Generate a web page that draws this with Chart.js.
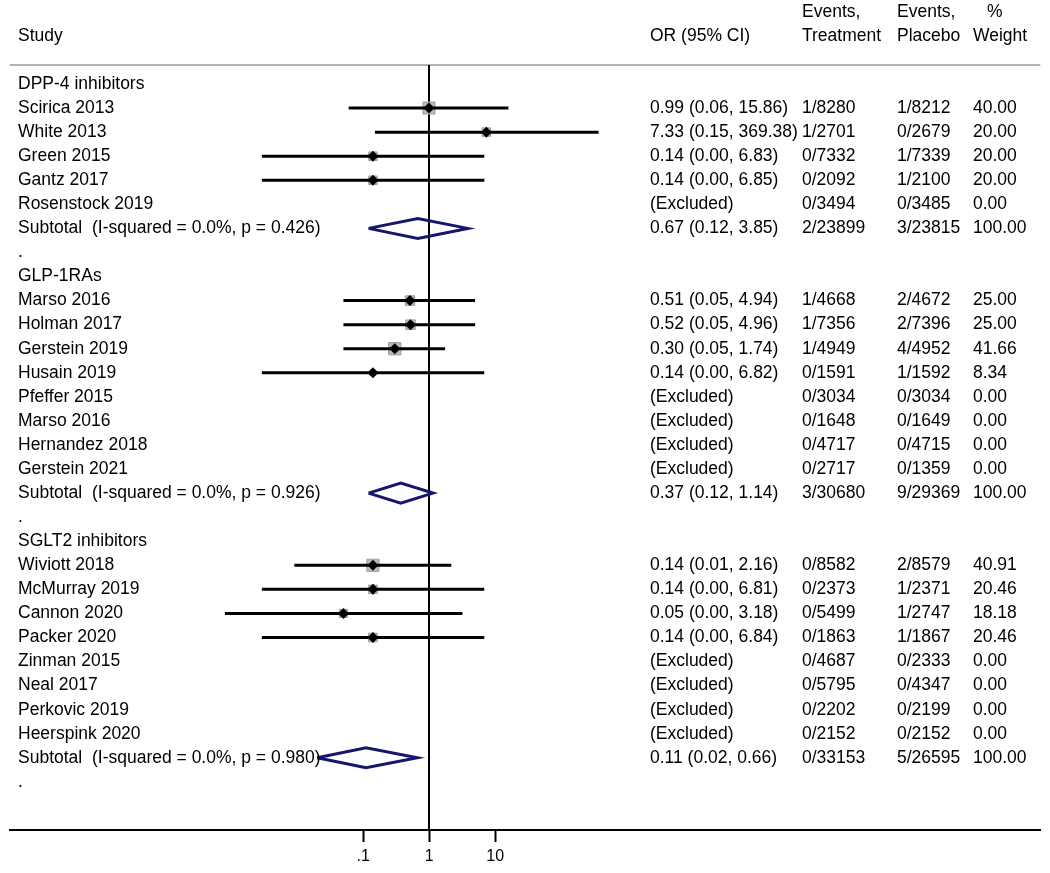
<!DOCTYPE html>
<html>
<head>
<meta charset="utf-8">
<script src="https://cdn.jsdelivr.net/npm/chart.js@4/dist/chart.umd.min.js"></script>
<style>
  html, body { margin: 0; padding: 0; background: #fff; }
  #wrap { width: 1050px; height: 873px; }
</style>
</head>
<body>
<div id="wrap"><canvas id="forest" width="1050" height="873"></canvas></div>
<script>
// Column headers (two lines each)
const headerTop = ['', '', 'Events,', 'Events,', '%'];
const headerBottom = ['Study', 'OR (95% CI)', 'Treatment', 'Placebo', 'Weight'];

// One entry per table row, top to bottom
const rowLabels = [
  'DPP-4 inhibitors', 'Scirica 2013', 'White 2013', 'Green 2015', 'Gantz 2017', 'Rosenstock 2019',
  'Subtotal  (I-squared = 0.0%, p = 0.426)', '.',
  'GLP-1RAs', 'Marso 2016', 'Holman 2017', 'Gerstein 2019', 'Husain 2019', 'Pfeffer 2015',
  'Marso 2016', 'Hernandez 2018', 'Gerstein 2021',
  'Subtotal  (I-squared = 0.0%, p = 0.926)', '.',
  'SGLT2 inhibitors', 'Wiviott 2018', 'McMurray 2019', 'Cannon 2020', 'Packer 2020', 'Zinman 2015',
  'Neal 2017', 'Perkovic 2019', 'Heerspink 2020',
  'Subtotal  (I-squared = 0.0%, p = 0.980)', '.'
];
const rowKind = [
  'group', 'study', 'study', 'study', 'study', 'excluded', 'subtotal', 'blank',
  'group', 'study', 'study', 'study', 'study', 'excluded', 'excluded', 'excluded', 'excluded', 'subtotal', 'blank',
  'group', 'study', 'study', 'study', 'study', 'excluded', 'excluded', 'excluded', 'excluded', 'subtotal', 'blank'
];
const orText = [
  '', '0.99 (0.06, 15.86)', '7.33 (0.15, 369.38)', '0.14 (0.00, 6.83)', '0.14 (0.00, 6.85)', '(Excluded)',
  '0.67 (0.12, 3.85)', '',
  '', '0.51 (0.05, 4.94)', '0.52 (0.05, 4.96)', '0.30 (0.05, 1.74)', '0.14 (0.00, 6.82)', '(Excluded)',
  '(Excluded)', '(Excluded)', '(Excluded)', '0.37 (0.12, 1.14)', '',
  '', '0.14 (0.01, 2.16)', '0.14 (0.00, 6.81)', '0.05 (0.00, 3.18)', '0.14 (0.00, 6.84)', '(Excluded)',
  '(Excluded)', '(Excluded)', '(Excluded)', '0.11 (0.02, 0.66)', ''
];
const eventsTreatment = [
  '', '1/8280', '1/2701', '0/7332', '0/2092', '0/3494', '2/23899', '',
  '', '1/4668', '1/7356', '1/4949', '0/1591', '0/3034', '0/1648', '0/4717', '0/2717', '3/30680', '',
  '', '0/8582', '0/2373', '0/5499', '0/1863', '0/4687', '0/5795', '0/2202', '0/2152', '0/33153', ''
];
const eventsPlacebo = [
  '', '1/8212', '0/2679', '1/7339', '1/2100', '0/3485', '3/23815', '',
  '', '2/4672', '2/7396', '4/4952', '1/1592', '0/3034', '0/1649', '0/4715', '0/1359', '9/29369', '',
  '', '2/8579', '1/2371', '1/2747', '1/1867', '0/2333', '0/4347', '0/2199', '0/2152', '5/26595', ''
];
const weightText = [
  '', '40.00', '20.00', '20.00', '20.00', '0.00', '100.00', '',
  '', '25.00', '25.00', '41.66', '8.34', '0.00', '0.00', '0.00', '0.00', '100.00', '',
  '', '40.91', '20.46', '18.18', '20.46', '0.00', '0.00', '0.00', '0.00', '100.00', ''
];

// Odds ratios and limits for the marks (null where nothing is drawn);
const orEst = [
  null, 0.99, 7.33, 0.14, 0.14, null, 0.67, null,
  null, 0.51, 0.52, 0.30, 0.14, null, null, null, null, 0.37, null,
  null, 0.14, 0.14, 0.05, 0.14, null, null, null, null, 0.11, null
];
const ciLow = [
  null, 0.06, 0.15, 0.0029, 0.0029, null, 0.12, null,
  null, 0.05, 0.05, 0.05, 0.0029, null, null, null, null, 0.12, null,
  null, 0.009, 0.0029, 0.0008, 0.0029, null, null, null, null, 0.02, null
];
const ciHigh = [
  null, 15.86, 369.38, 6.83, 6.85, null, 3.85, null,
  null, 4.94, 4.96, 1.74, 6.82, null, null, null, null, 1.14, null,
  null, 2.16, 6.81, 3.18, 6.84, null, null, null, null, 0.66, null
];
const weights = [
  0, 40.00, 20.00, 20.00, 20.00, 0, 100, 0,
  0, 25.00, 25.00, 41.66, 8.34, 0, 0, 0, 0, 100, 0,
  0, 40.91, 20.46, 18.18, 20.46, 0, 0, 0, 0, 100, 0
];

const xTicks = [0.1, 1, 10];
const xTickLabels = ['.1', '1', '10'];

// layout
const FONT_FAMILY = '"Liberation Sans", Arial, sans-serif';
const FONT = '17.5px ' + FONT_FAMILY;
const X_LOG_MIN = -6.36, X_LOG_MAX = 9.263;
const Y_MIN = -0.79, Y_MAX = 31;
const COL_X = [18, 650, 802, 897, 973];
const PCT_X = 987;
const DIAMOND_HALF = 0.415;
const NAVY = '#16176a';

const ciSets = [], squares = [], points = [], diamonds = [];
rowKind.forEach((kind, i) => {
  if (kind === 'study') {
    ciSets.push({
      type: 'line',
      data: [{ x: ciLow[i], y: i }, { x: ciHigh[i], y: i }],
      borderColor: '#000', borderWidth: 3, pointRadius: 0, order: 1
    });
    squares.push({ x: orEst[i], y: i, w: weights[i] });
    points.push({ x: orEst[i], y: i });
  } else if (kind === 'subtotal') {
    diamonds.push({
      type: 'line',
      data: [
        { x: ciLow[i], y: i }, { x: orEst[i], y: i - DIAMOND_HALF },
        { x: ciHigh[i], y: i }, { x: orEst[i], y: i + DIAMOND_HALF },
        { x: ciLow[i], y: i }
      ],
      borderColor: NAVY, borderWidth: 3, pointRadius: 0, fill: false,
      borderJoinStyle: 'miter', tension: 0, order: 1
    });
  }
});

const tablePlugin = {
  id: 'table',
  beforeDatasetsDraw(chart) {
    const { ctx, chartArea, scales } = chart;
    ctx.save();
    // separator under the header
    ctx.strokeStyle = '#b4b4b4';
    ctx.lineWidth = 2;
    ctx.beginPath();
    ctx.moveTo(chartArea.left, chartArea.top);
    ctx.lineTo(chartArea.right, chartArea.top);
    ctx.stroke();
    // line of no effect
    const x1 = Math.round(scales.x.getPixelForValue(1));
    ctx.strokeStyle = '#000';
    ctx.lineWidth = 2;
    ctx.beginPath();
    ctx.moveTo(x1, chartArea.top);
    ctx.lineTo(x1, chartArea.bottom);
    ctx.stroke();
    ctx.restore();
  },
  afterDraw(chart) {
    const { ctx, scales } = chart;
    const y = scales.y;
    ctx.save();
    ctx.font = FONT;
    ctx.fillStyle = '#000';
    ctx.textBaseline = 'middle';
    ctx.textAlign = 'left';
    const yTop = y.getPixelForValue(-3), yBot = y.getPixelForValue(-2);
    headerTop.forEach((t, c) => {
      if (t) ctx.fillText(t, c === 4 ? PCT_X : COL_X[c], yTop);
    });
    headerBottom.forEach((t, c) => ctx.fillText(t, COL_X[c], yBot));
    rowLabels.forEach((label, i) => {
      const py = y.getPixelForValue(i);
      ctx.fillText(label, COL_X[0], py);
      if (orText[i]) ctx.fillText(orText[i], COL_X[1], py);
      if (eventsTreatment[i]) ctx.fillText(eventsTreatment[i], COL_X[2], py);
      if (eventsPlacebo[i]) ctx.fillText(eventsPlacebo[i], COL_X[3], py);
      if (weightText[i]) ctx.fillText(weightText[i], COL_X[4], py);
    });
    ctx.restore();
  }
};

new Chart(document.getElementById('forest'), {
  type: 'scatter',
  data: {
    datasets: [
      {
        data: points,
        pointStyle: 'rectRot', pointRadius: 5.5, pointHoverRadius: 5.5,
        backgroundColor: '#000', borderColor: '#000', borderWidth: 0, order: 0
      },
      ...ciSets,
      {
        data: squares,
        pointStyle: 'rect',
        pointRadius: ctx => ctx.raw ? Math.sqrt(ctx.raw.w) * 1.35 : 0,
        backgroundColor: '#b9b9b9', borderColor: '#a0a0a0', borderWidth: 1, order: 2
      },
      ...diamonds
    ]
  },
  options: {
    responsive: false,
    animation: false,
    events: [],
    layout: { padding: { left: 5, right: 6, top: 65, bottom: 1 } },
    plugins: { legend: { display: false }, tooltip: { enabled: false } },
    scales: {
      x: {
        type: 'logarithmic',
        bounds: 'data',
        min: Math.pow(10, X_LOG_MIN),
        max: Math.pow(10, X_LOG_MAX),
        afterBuildTicks: axis => { axis.ticks = xTicks.map(v => ({ value: v })); },
        ticks: {
          callback: (v, i) => xTickLabels[i],
          autoSkip: false, maxRotation: 0, padding: 7,
          color: '#000',
          font: { family: FONT_FAMILY, size: 16, lineHeight: 1 }
        },
        grid: { drawOnChartArea: false, drawTicks: true, tickLength: 12, tickWidth: 2, tickColor: '#000' },
        border: { display: true, color: '#000', width: 2 }
      },
      y: {
        type: 'linear', reverse: true, display: false,
        min: Y_MIN, max: Y_MAX
      }
    }
  },
  plugins: [tablePlugin]
});
</script>
</body>
</html>
